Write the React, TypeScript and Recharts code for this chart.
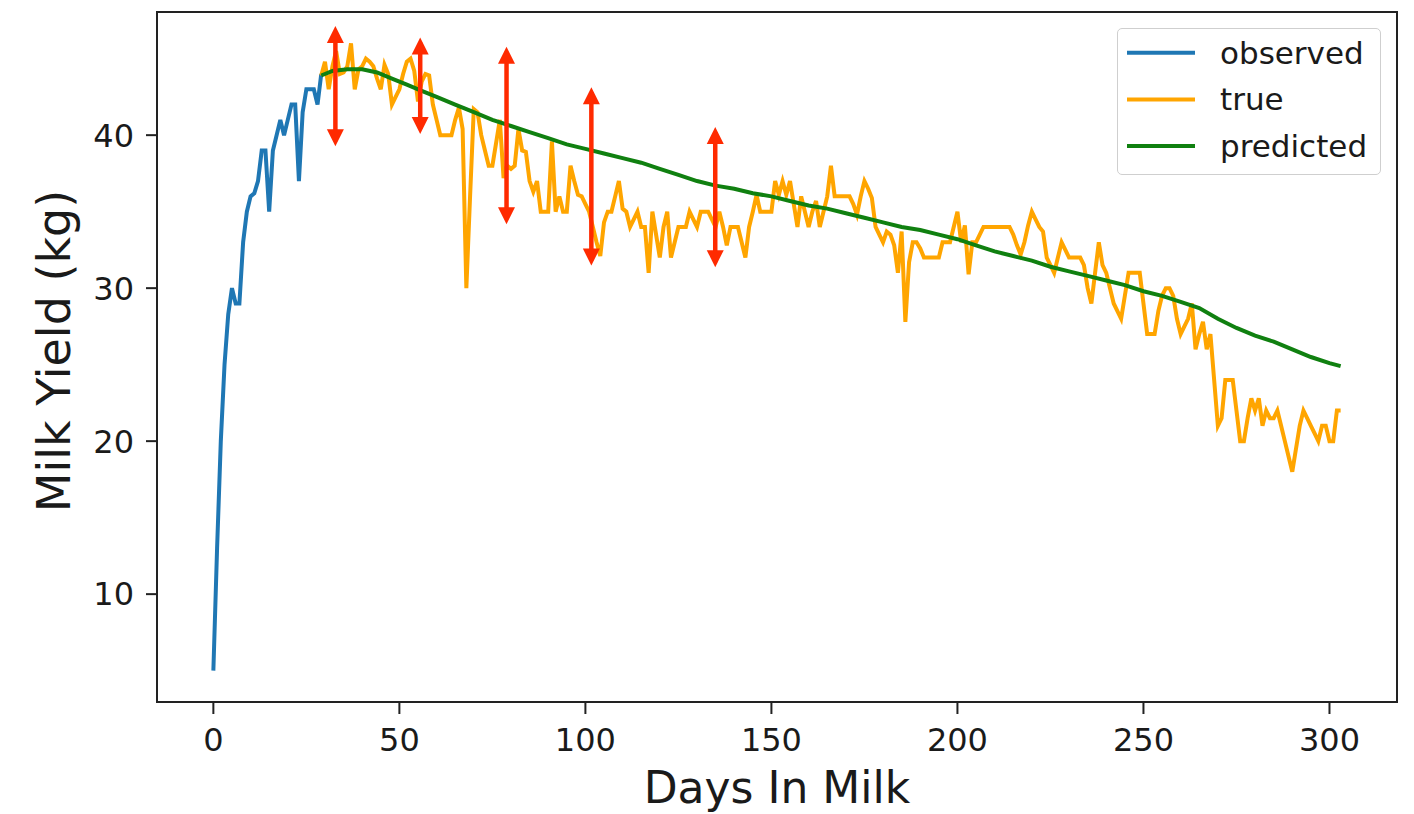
import React from 'react';
import { LineChart, Line, XAxis, YAxis, ReferenceArea } from 'recharts';

// ---- data ----
const observed: [number, number][] = [
  [0, 5], [1, 13], [2, 20], [3, 25], [4, 28.3], [5, 30], [6, 29], [7, 29], [8, 33], [9, 35],
  [10, 36], [11, 36.2], [12, 37], [13, 39], [14, 39], [15, 35], [16, 39], [17, 40], [18, 41], [19, 40],
  [20, 41], [21, 42], [22, 42], [23, 37], [24, 41.5], [25, 43], [26, 43], [27, 43], [28, 42], [29, 44],
];

const trueYield: [number, number][] = [
  [29, 43.9], [30, 44.8], [31, 43.0], [32, 44.5], [33, 45.5], [34, 44.0], [35, 44.1], [36, 44.5], [37, 46.0], [38, 43.0],
  [39, 44.3], [40, 44.5], [41, 45.0], [42, 44.8], [43, 44.5], [44, 43.7], [45, 43.0], [46, 44.6], [47, 44.0], [48, 42.0],
  [49, 42.5], [50, 43.0], [51, 44.0], [52, 44.8], [53, 45.0], [54, 44.2], [55, 42.2], [56, 43.5], [57, 44.0], [58, 43.9],
  [59, 42.0], [60, 41.0], [61, 40.0], [62, 40.0], [63, 40.0], [64, 40.0], [65, 41.0], [66, 41.8], [67, 40.4], [68, 30.0],
  [69, 36.0], [70, 41.7], [71, 41.5], [72, 40.0], [73, 39.0], [74, 38.0], [75, 38.0], [76, 39.5], [77, 41.0], [78, 37.2],
  [79, 38.0], [80, 37.8], [81, 38.0], [82, 40.4], [83, 39.0], [84, 38.9], [85, 37.0], [86, 36.3], [87, 37.0], [88, 35.0],
  [89, 35.0], [90, 35.0], [91, 39.6], [92, 35.0], [93, 36.0], [94, 35.0], [95, 35.0], [96, 38.0], [97, 37.0], [98, 36.1],
  [99, 36.0], [100, 35.5], [101, 35.0], [102, 34.0], [103, 33.0], [104, 32.1], [105, 34.3], [106, 35.0], [107, 35.0], [108, 36.0],
  [109, 37.0], [110, 35.2], [111, 35.0], [112, 34.0], [113, 34.5], [114, 35.0], [115, 34.0], [116, 34.0], [117, 31.0], [118, 35.0],
  [119, 33.5], [120, 32.0], [121, 34.0], [122, 35.0], [123, 32.0], [124, 33.0], [125, 34.0], [126, 34.0], [127, 34.0], [128, 35.0],
  [129, 34.5], [130, 34.0], [131, 35.0], [132, 35.0], [133, 35.0], [134, 34.5], [135, 34.0], [136, 35.0], [137, 34.0], [138, 32.8],
  [139, 34.0], [140, 34.0], [141, 34.0], [142, 33.0], [143, 32.0], [144, 34.0], [145, 35.0], [146, 36.1], [147, 35.0], [148, 35.0],
  [149, 35.0], [150, 35.0], [151, 37.0], [152, 36.1], [153, 37.0], [154, 36.1], [155, 37.0], [156, 35.5], [157, 34.0], [158, 36.0],
  [159, 35.0], [160, 34.0], [161, 35.0], [162, 35.7], [163, 34.0], [164, 35.0], [165, 36.0], [166, 38.0], [167, 36.0], [168, 36.0],
  [169, 36.0], [170, 36.0], [171, 36.0], [172, 35.5], [173, 34.8], [174, 36.0], [175, 37.0], [176, 36.5], [177, 35.9], [178, 34.0],
  [179, 33.5], [180, 33.0], [181, 33.7], [182, 33.5], [183, 32.8], [184, 31.0], [185, 33.7], [186, 27.8], [187, 31.7], [188, 33.0],
  [189, 33.0], [190, 32.6], [191, 32.0], [192, 32.0], [193, 32.0], [194, 32.0], [195, 32.0], [196, 33.0], [197, 33.0], [198, 33.0],
  [199, 34.0], [200, 35.0], [201, 33.0], [202, 34.1], [203, 30.9], [204, 33.0], [205, 33.0], [206, 33.5], [207, 34.0], [208, 34.0],
  [209, 34.0], [210, 34.0], [211, 34.0], [212, 34.0], [213, 34.0], [214, 34.0], [215, 33.5], [216, 32.8], [217, 32.2], [218, 33.0],
  [219, 34.1], [220, 35.0], [221, 34.5], [222, 34.0], [223, 33.7], [224, 32.0], [225, 31.5], [226, 31.0], [227, 32.0], [228, 33.0],
  [229, 32.5], [230, 32.0], [231, 32.0], [232, 32.0], [233, 32.0], [234, 31.5], [235, 30.0], [236, 29.0], [237, 31.0], [238, 33.0],
  [239, 31.5], [240, 31.0], [241, 30.0], [242, 29.0], [243, 28.5], [244, 28.0], [245, 29.5], [246, 31.0], [247, 31.0], [248, 31.0],
  [249, 31.0], [250, 29.0], [251, 27.0], [252, 27.0], [253, 27.0], [254, 28.5], [255, 29.5], [256, 30.0], [257, 30.0], [258, 29.5],
  [259, 28.0], [260, 27.0], [261, 27.5], [262, 28.0], [263, 29.0], [264, 26.0], [265, 27.0], [266, 27.8], [267, 26.0], [268, 27.0],
  [269, 24.0], [270, 21.0], [271, 21.5], [272, 24.0], [273, 24.0], [274, 24.0], [275, 22.0], [276, 20.0], [277, 20.0], [278, 21.5],
  [279, 22.8], [280, 22.0], [281, 22.8], [282, 21.0], [283, 22.0], [284, 21.5], [285, 21.5], [286, 22.0], [287, 21.0], [288, 20.0],
  [289, 19.0], [290, 18.0], [291, 19.5], [292, 21.0], [293, 22.0], [294, 21.5], [295, 21.0], [296, 20.5], [297, 20.0], [298, 21.0],
  [299, 21.0], [300, 20.0], [301, 20.0], [302, 22.0], [303, 22.0],
];

const predicted: [number, number][] = [
  [29, 43.9], [32, 44.2], [36, 44.3], [40, 44.3], [44, 44.1], [48, 43.7], [52, 43.3], [56, 42.9], [60, 42.5], [65, 42.0],
  [70, 41.5], [75, 41.0], [80, 40.6], [85, 40.2], [90, 39.8], [95, 39.4], [100, 39.1], [105, 38.8], [110, 38.5], [115, 38.2],
  [120, 37.8], [125, 37.4], [130, 37.0], [135, 36.7], [140, 36.5], [145, 36.2], [150, 36.0], [155, 35.7], [160, 35.4], [165, 35.2],
  [170, 34.9], [175, 34.6], [180, 34.3], [185, 34.0], [190, 33.8], [195, 33.5], [200, 33.2], [205, 32.8], [210, 32.4], [215, 32.1],
  [220, 31.8], [225, 31.4], [230, 31.1], [235, 30.8], [240, 30.5], [245, 30.2], [250, 29.8], [255, 29.5], [260, 29.1], [265, 28.7],
  [270, 28.0], [275, 27.4], [280, 26.9], [285, 26.5], [290, 26.0], [295, 25.5], [300, 25.1], [303, 24.9],
];

// annotation arrows: day, upper end, lower end
const arrows: [number, number, number][] = [
  [32.8, 46.8, 39.6],
  [55.6, 46.05, 40.4],
  [78.8, 45.45, 34.5],
  [101.6, 42.8, 31.8],
  [134.9, 40.2, 31.7],
];

const xTicks = [0, 50, 100, 150, 200, 250, 300];
const yTicks = [10, 20, 30, 40];
const xDomain: [number, number] = [-15.15, 318.15];
const yDomain: [number, number] = [2.95, 48.05];

const seriesMeta = [
  { name: 'observed', color: '#1f77b4' },
  { name: 'true', color: '#ffa500' },
  { name: 'predicted', color: '#108010' },
];

const toPts = (arr: [number, number][]) => arr.map(([day, y]) => ({ day, y }));

const FONT = "'DejaVu Sans', sans-serif";
const TXT = '#1a1a1a';
const ARROW = '#ff2a00';

const ArrowHead = (props: any) => {
  const { cx, cy, index } = props;
  if (cx == null || cy == null) return null;
  const up = index === 0;
  const tip = up ? cy - 5 : cy + 5;
  const base = up ? cy + 12 : cy - 12;
  const d = `M${cx},${tip} L${cx - 8.5},${base} L${cx + 8.5},${base} Z`;
  return <path key={`ah-${index}`} d={d} fill={ARROW} stroke="none" />;
};

const YLabel = (props: any) => {
  const vb = props.viewBox || {};
  const cx = 70;
  const cy = (vb.y ?? 12) + (vb.height ?? 690) / 2 - 6;
  return (
    <text x={cx} y={cy} transform={`rotate(-90 ${cx} ${cy})`} textAnchor="middle"
      fontSize={46} fontFamily={FONT} fill={TXT}>Milk Yield (kg)</text>
  );
};

const XLabel = (props: any) => {
  const vb = props.viewBox || {};
  const cx = (vb.x ?? 157) + (vb.width ?? 1240) / 2;
  return (
    <text x={cx} y={803} textAnchor="middle" fontSize={44} fontFamily={FONT} fill={TXT}>Days In Milk</text>
  );
};

export default function App() {
  const axisLine = { stroke: '#222', strokeWidth: 2 };
  const tickStyle = { fontSize: 32, fill: TXT, fontFamily: FONT };
  return (
    <div style={{ position: 'absolute', left: 0, top: 0, width: 1414, height: 814, background: '#fff' }}>
      <LineChart width={1414} height={814} margin={{ top: 12, right: 17, bottom: 0, left: 0 }}>
        <XAxis dataKey="day" type="number" domain={xDomain} ticks={xTicks} allowDataOverflow
          height={112} tickSize={12} tickMargin={14} axisLine={axisLine}
          tickLine={{ stroke: '#222', strokeWidth: 2 }} tick={tickStyle}
          label={{ content: XLabel }} />
        <YAxis type="number" domain={yDomain} ticks={yTicks} allowDataOverflow
          width={157} tickSize={11} tickMargin={12} axisLine={axisLine}
          tickLine={{ stroke: '#222', strokeWidth: 2 }} tick={tickStyle}
          label={{ content: YLabel }} />
        <ReferenceArea x1={xDomain[0]} x2={xDomain[1]} y1={yDomain[0]} y2={yDomain[1]}
          fill="none" fillOpacity={0} stroke="#222" strokeWidth={2} ifOverflow="visible" />
        <Line data={toPts(observed)} dataKey="y" name="observed" stroke={seriesMeta[0].color} strokeWidth={4}
          dot={false} isAnimationActive={false} />
        <Line data={toPts(trueYield)} dataKey="y" name="true" stroke={seriesMeta[1].color} strokeWidth={4}
          dot={false} isAnimationActive={false} />
        <Line data={toPts(predicted)} dataKey="y" name="predicted" stroke={seriesMeta[2].color} strokeWidth={4}
          dot={false} isAnimationActive={false} />
        {arrows.map(([day, top, bottom], i) => (
          <Line key={`arrow-${i}`} data={[{ day, y: top }, { day, y: bottom }]} dataKey="y"
            stroke={ARROW} strokeWidth={4.5} dot={ArrowHead} activeDot={false}
            legendType="none" isAnimationActive={false} />
        ))}
      </LineChart>
      <div style={{
        position: 'absolute', left: 1117, top: 28, width: 264, height: 147, boxSizing: 'border-box',
        border: '1.5px solid #cfcfcf', borderRadius: 5, background: 'rgba(255,255,255,0.85)',
      }}>
        <svg width={264} height={147} style={{ position: 'absolute', left: -1.5, top: -1.5 }}>
          {seriesMeta.map((s, i) => {
            const cy = 24.7 + i * 46.7;
            return (
              <g key={s.name}>
                <line x1={10} x2={78} y1={cy} y2={cy} stroke={s.color} strokeWidth={4} />
                <text x={103} y={cy + 11} fontSize={31} fontFamily={FONT} fill={TXT}>{s.name}</text>
              </g>
            );
          })}
        </svg>
      </div>
    </div>
  );
}
